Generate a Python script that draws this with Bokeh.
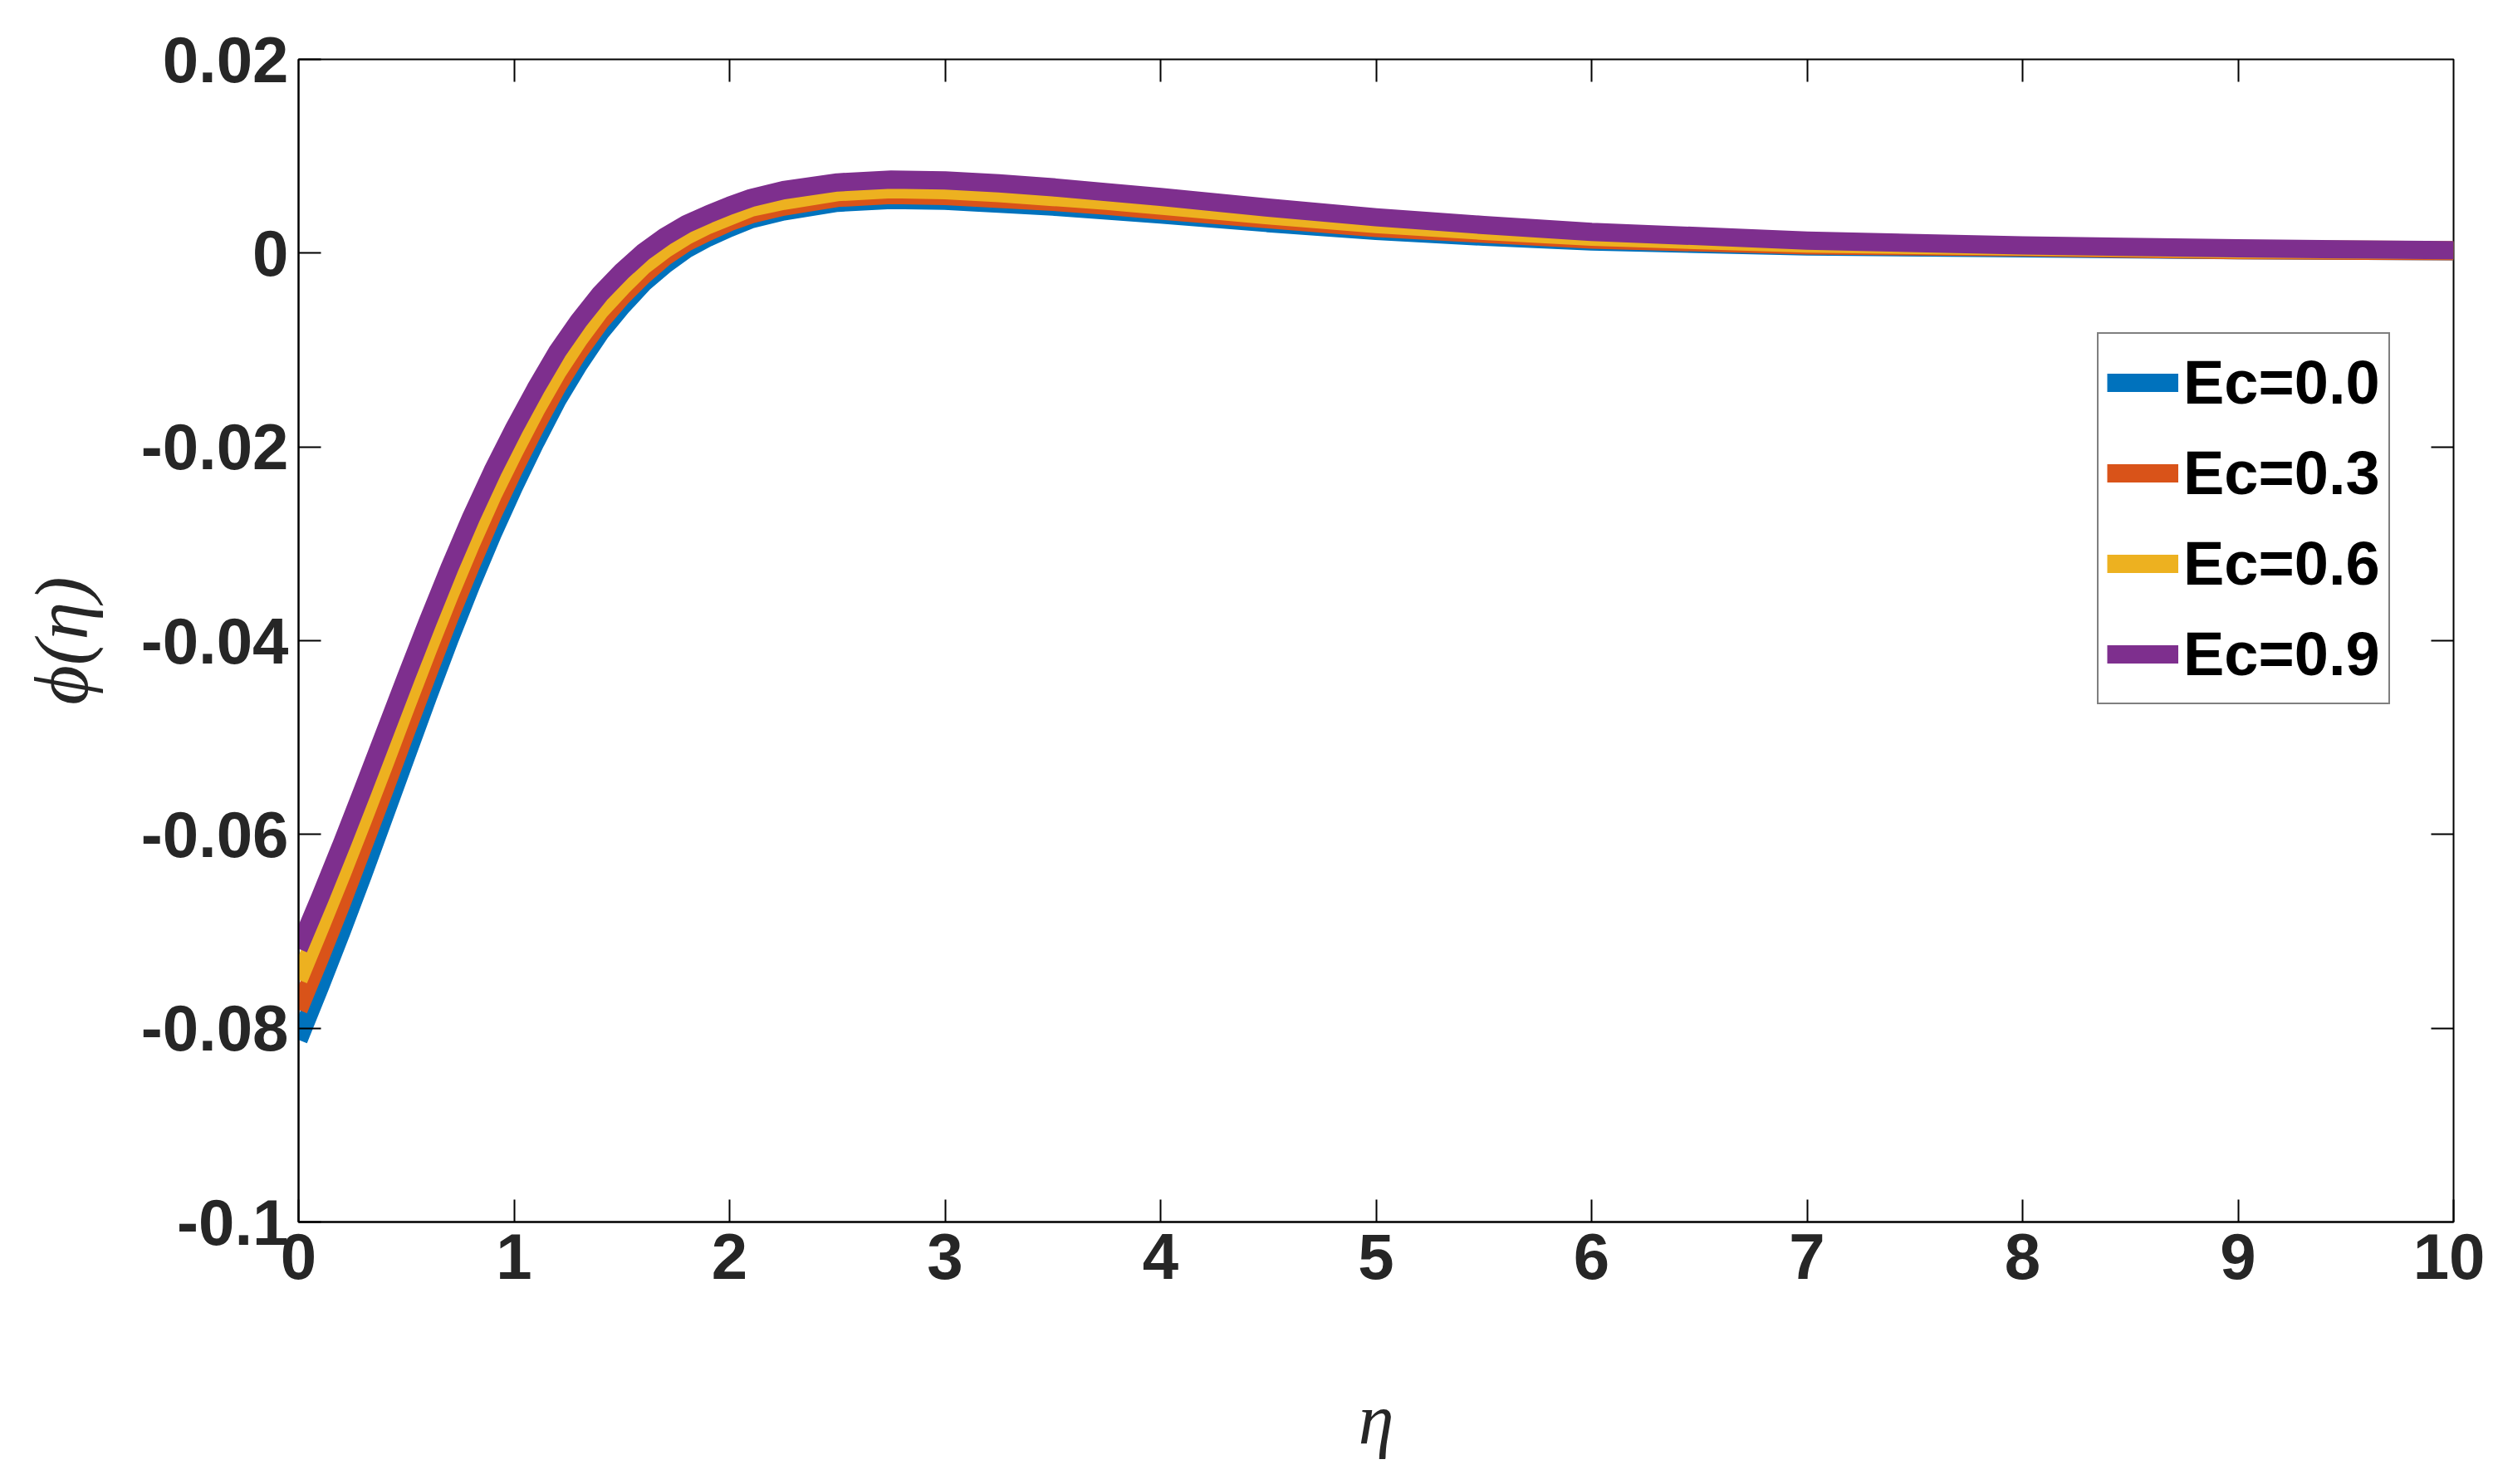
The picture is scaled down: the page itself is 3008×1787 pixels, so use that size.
from bokeh.plotting import figure
from bokeh.models import (Range1d, FixedTicker, Legend, LegendItem, CustomJSTickFormatter)
from bokeh.embed import file_html
from bokeh.resources import INLINE

# ---------------- data ----------------
eta = [0.0, 0.1, 0.2, 0.3, 0.4, 0.5, 0.6, 0.7, 0.8, 0.9, 1.0, 1.1, 1.2, 1.3, 1.4,
       1.5, 1.6, 1.7, 1.8, 1.9, 2.0, 2.1, 2.25, 2.5, 2.75, 3.0, 3.25, 3.5, 3.75,
       4.0, 4.5, 5.0, 5.5, 6.0, 7.0, 8.0, 9.0, 10.0]

phi_ec_00 = [-0.0812, -0.0757, -0.0700, -0.0641, -0.0580, -0.0519, -0.0458, -0.0399,
             -0.0343, -0.0290, -0.0241, -0.0195, -0.0152, -0.0115, -0.0082,
             -0.0055, -0.0031, -0.0012, 0.0004, 0.0016, 0.0026, 0.0035, 0.0043,
             0.0052, 0.0055, 0.0054, 0.0051, 0.0048, 0.0044,
             0.0040, 0.0031, 0.0023, 0.0017, 0.0012, 0.0007, 0.0005, 0.0003, 0.0002]

phi_ec_03 = [-0.0781, -0.0727, -0.0671, -0.0612, -0.0553, -0.0493, -0.0434, -0.0376,
             -0.0322, -0.0270, -0.0223, -0.0179, -0.0138, -0.0102, -0.0071,
             -0.0045, -0.0023, -0.0004, 0.0011, 0.0022, 0.0032, 0.0040, 0.0048,
             0.0057, 0.0060, 0.0059, 0.0056, 0.0053, 0.0049,
             0.0044, 0.0035, 0.0026, 0.0020, 0.0014, 0.0008, 0.0006, 0.0003, 0.0002]

phi_ec_06 = [-0.0750, -0.0696, -0.0641, -0.0584, -0.0526, -0.0467, -0.0409, -0.0353,
             -0.0300, -0.0250, -0.0205, -0.0162, -0.0123, -0.0089, -0.0059,
             -0.0035, -0.0013, 0.0004, 0.0018, 0.0029, 0.0038, 0.0047, 0.0054,
             0.0063, 0.0066, 0.0065, 0.0062, 0.0058, 0.0054,
             0.0049, 0.0039, 0.0030, 0.0023, 0.0017, 0.0010, 0.0007, 0.0004, 0.0003]

phi_ec_09 = [-0.0718, -0.0665, -0.0610, -0.0553, -0.0495, -0.0437, -0.0380, -0.0325,
             -0.0273, -0.0225, -0.0181, -0.0140, -0.0102, -0.0070, -0.0042,
             -0.0019, 0.0001, 0.0017, 0.0030, 0.0040, 0.0049, 0.0057, 0.0065,
             0.0073, 0.0076, 0.0075, 0.0072, 0.0068, 0.0063,
             0.0058, 0.0047, 0.0037, 0.0029, 0.0022, 0.0013, 0.0008, 0.0005, 0.0003]

series_labels = ["Ec=0.0", "Ec=0.3", "Ec=0.6", "Ec=0.9"]
series_values = [phi_ec_00, phi_ec_03, phi_ec_06, phi_ec_09]
series_colors = ["#0072BD", "#D95319", "#EDB120", "#7E2F8E"]

x_min, x_max = 0, 10
y_min, y_max = -0.1, 0.02
x_ticks = [0, 1, 2, 3, 4, 5, 6, 7, 8, 9, 10]
y_ticks = [-0.1, -0.08, -0.06, -0.04, -0.02, 0.0, 0.02]

# ---------------- figure ----------------
W, H = 2992, 1771
BL, BR, BT, BB = 359, 38, 71, 300
p = figure(width=W, height=H, output_backend="svg", toolbar_location=None,
           x_range=Range1d(x_min, x_max), y_range=Range1d(y_min, y_max),
           min_border_left=BL, min_border_right=BR, min_border_top=BT,
           min_border_bottom=BB)
p.background_fill_color = "white"
p.border_fill_color = "white"
p.outline_line_color = "black"
p.outline_line_width = 2

TICK_FONT = "Liberation Sans"
TICK_SIZE = "78px"
TICK_LEN = 27
LABEL_FONT = "Liberation Serif, DejaVu Serif"

xa = p.xaxis[0]
xa.ticker = FixedTicker(ticks=x_ticks)
xa.major_label_text_font = TICK_FONT
xa.major_label_text_font_style = "bold"
xa.major_label_text_font_size = TICK_SIZE
xa.major_label_text_color = "#262626"
xa.major_label_standoff = 14
xa.major_tick_in = TICK_LEN
xa.major_tick_out = 0
xa.major_tick_line_width = 2
xa.minor_tick_line_color = None
xa.axis_line_width = 2
xa.axis_label = "η"
xa.axis_label_text_font = LABEL_FONT
xa.axis_label_text_font_style = "italic"
xa.axis_label_text_font_size = "86px"
xa.axis_label_text_color = "#262626"
xa.axis_label_standoff = 118

ya = p.yaxis[0]
ya.ticker = FixedTicker(ticks=y_ticks)
ya.formatter = CustomJSTickFormatter(
    code="return Math.abs(tick) < 1e-12 ? '0' : String(Math.round(tick * 100) / 100);")
ya.major_label_text_font = TICK_FONT
ya.major_label_text_font_style = "bold"
ya.major_label_text_font_size = TICK_SIZE
ya.major_label_text_color = "#262626"
ya.major_label_standoff = 12
ya.major_tick_in = TICK_LEN
ya.major_tick_out = 0
ya.major_tick_line_width = 2
ya.minor_tick_line_color = None
ya.axis_line_width = 2
ya.axis_label = "ϕ(η)"
ya.axis_label_text_font = LABEL_FONT
ya.axis_label_text_font_style = "italic"
ya.axis_label_text_font_size = "92px"
ya.axis_label_text_color = "#262626"
ya.axis_label_standoff = 42

# mirrored inward ticks on the top and right edges, drawn as short grid lines
frame_w = W - BL - BR
frame_h = H - BT - BB
tick_dx = TICK_LEN * (x_max - x_min) / frame_w
tick_dy = TICK_LEN * (y_max - y_min) / frame_h
p.xgrid.ticker = FixedTicker(ticks=x_ticks)
p.xgrid.cross_bounds = (y_max - tick_dy, y_max)
p.xgrid.grid_line_color = "black"
p.xgrid.grid_line_width = 2
p.xgrid.grid_line_alpha = 1.0
p.ygrid.ticker = FixedTicker(ticks=y_ticks)
p.ygrid.cross_bounds = (x_max - tick_dx, x_max)
p.ygrid.grid_line_color = "black"
p.ygrid.grid_line_width = 2
p.ygrid.grid_line_alpha = 1.0

# ---------------- lines ----------------
items = []
for label, vals, col in zip(series_labels, series_values, series_colors):
    r = p.line(eta, vals, line_color=col, line_width=22, line_join="round")
    items.append(LegendItem(label=label, renderers=[r]))

legend = Legend(items=items, location=(2166, 623))
legend.label_text_font = "Liberation Sans"
legend.label_text_font_style = "bold"
legend.label_text_font_size = "74px"
legend.label_text_color = "black"
legend.glyph_width = 86
legend.glyph_height = 97
legend.label_height = 97
legend.label_standoff = 6
legend.spacing = 12
legend.padding = 10
legend.margin = 0
legend.border_line_color = "black"
legend.border_line_width = 2
legend.background_fill_color = "white"
legend.background_fill_alpha = 1.0
p.add_layout(legend)

open("out.html", "w").write(file_html(p, INLINE))
